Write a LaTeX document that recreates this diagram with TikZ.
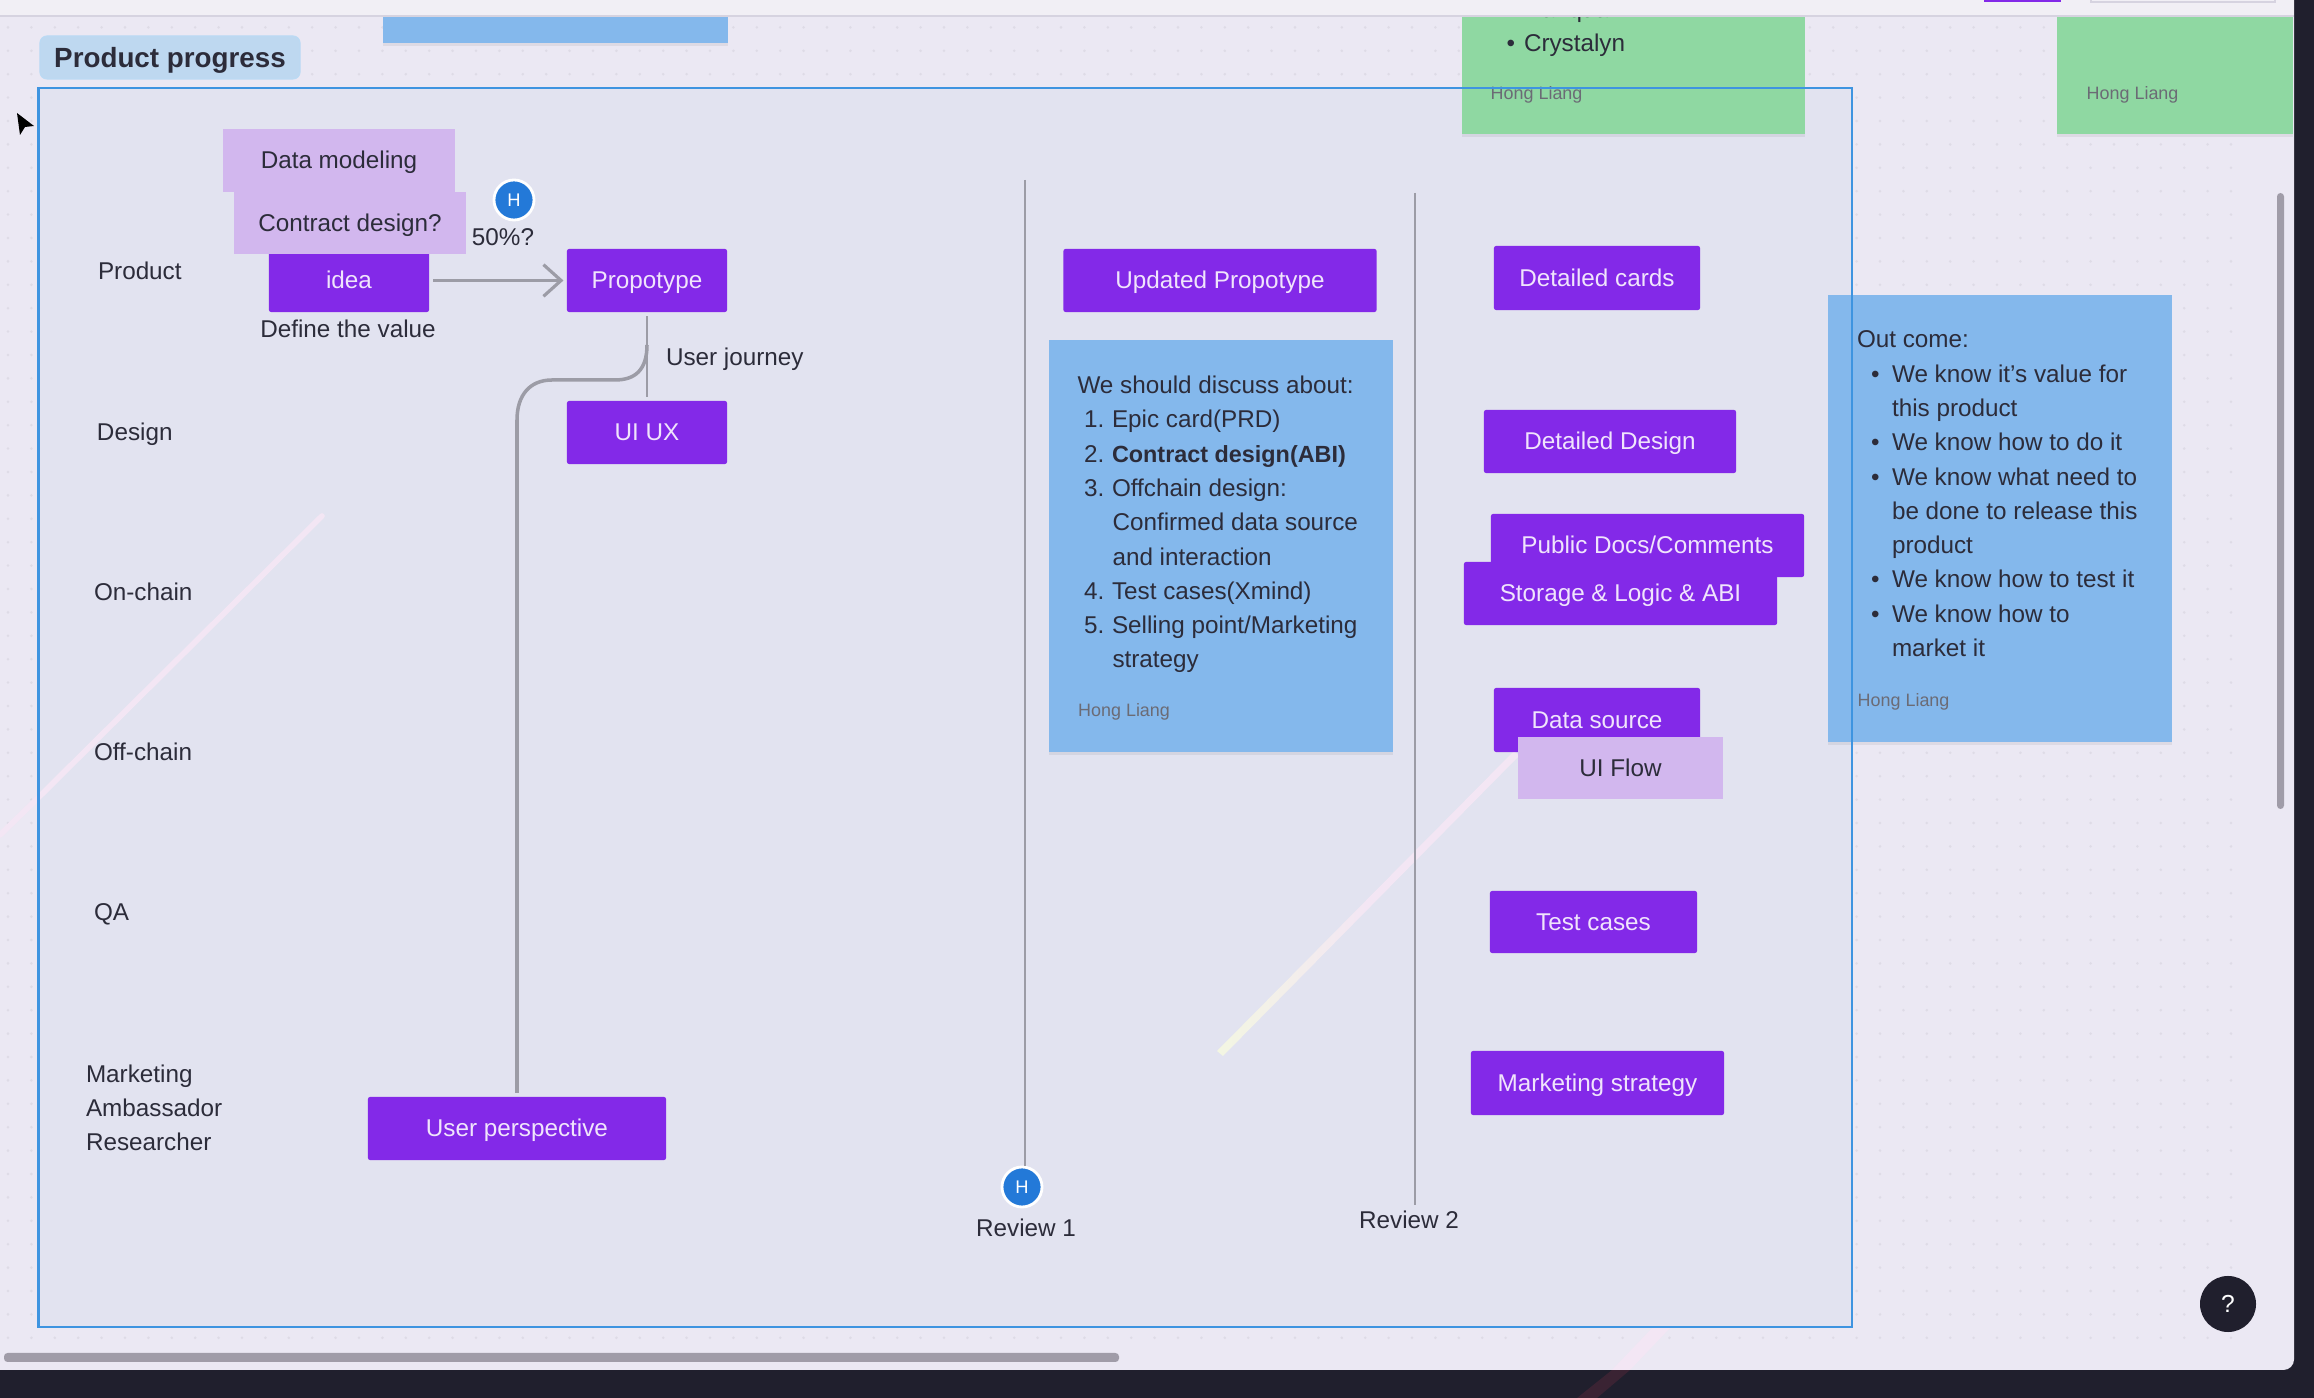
\documentclass[tikz,border=0pt]{standalone}
\usepackage{fontspec}
\setmainfont{Liberation Sans}
\usepackage{xcolor}
\usetikzlibrary{arrows.meta,shadows}
\definecolor{page}{RGB}{235, 232, 243}
\definecolor{pagedot}{RGB}{222, 219, 230}
\definecolor{topbar}{RGB}{241, 239, 245}
\definecolor{topline}{RGB}{214, 211, 224}
\definecolor{outside}{RGB}{32, 31, 45}
\definecolor{framefill}{RGB}{226, 227, 240}
\definecolor{frameline}{RGB}{62, 148, 224}
\definecolor{labelfill}{RGB}{190, 216, 240}
\definecolor{purple}{RGB}{131, 41, 232}
\definecolor{lilac}{RGB}{210, 183, 238}
\definecolor{noteblue}{RGB}{132, 184, 236}
\definecolor{notegreen}{RGB}{143, 216, 162}
\definecolor{ink}{RGB}{44, 44, 58}
\definecolor{cardtext}{RGB}{240, 228, 252}
\definecolor{avatar}{RGB}{35, 121, 216}
\definecolor{linegray}{RGB}{156, 156, 166}
\definecolor{bargray}{RGB}{160, 156, 168}
\definecolor{streakpink}{RGB}{243, 230, 244}
\definecolor{streakpale}{RGB}{243, 246, 226}
\definecolor{streakdark}{RGB}{58, 35, 51}
\newcommand{\numitem}[2]{\makebox[.065cm][l]{}\makebox[.28cm][l]{#1}#2}
\newcommand{\contitem}[1]{\makebox[.35cm][l]{}#1}
\newcommand{\bulitem}[1]{\makebox[.14cm][l]{}\makebox[.21cm][l]{\textbullet}#1}
\tikzset{
  txt/.style={font=\fontsize{6.9}{9.75}\selectfont,text=ink,inner sep=0pt,outer sep=0pt,text height=5.6pt,text depth=1.3pt},
  lefttxt/.style={txt,anchor=west},
  notetxt/.style={font=\fontsize{6.9}{9.75}\selectfont,text=ink,inner sep=0pt,outer sep=0pt,anchor=north west,align=left},
  signtxt/.style={font=\fontsize{5.1}{6}\selectfont,text=ink!70,inner sep=0pt,anchor=west,text height=3.7pt,text depth=1pt},
  card/.style={fill=purple,rounded corners=.6pt,font=\fontsize{6.9}{9}\selectfont,text=cardtext,inner sep=0pt,outer sep=0pt,text height=6pt,text depth=1.3pt},
  softcard/.style={card,fill=lilac,rounded corners=0pt,text=ink},
  sticky/.style={fill=#1,inner sep=0pt,outer sep=0pt,drop shadow={shadow xshift=0cm,shadow yshift=-.03cm,opacity=.06,fill=black}},
  badge/.style={circle,fill=avatar,draw=white,line width=.8pt,minimum size=.4cm,inner sep=0pt,font=\fontsize{5.2}{6}\selectfont,text=white},
  rule/.style={linegray,line width=.8pt},
  flow/.style={linegray,line width=.9pt,-{Straight Barb[length=5pt,width=9pt,line width=.9pt]}},
  streak/.style={line width=1.6pt,line cap=round}
}
\begin{document}
\begin{tikzpicture}[x=.01cm,y=-.01cm]
\useasboundingbox (0,0) rectangle (2314,1398);
\fill[outside] (0,0) rectangle (2314,1398);
\fill[streakdark] (1612,1370) -- (1630,1370) -- (1597,1398) -- (1577,1398) -- cycle;
\fill[page,rounded corners=3pt] (-20,-20) rectangle (2294,1370);
% dot grid
\foreach \i in {0,...,95}
  \foreach \j in {1,...,57}
    \fill[pagedot] ({\i*23.4+8},{\j*23.4+4}) circle (.4pt);
\fill[streakpink] (1658,1322) -- (1670,1328) -- (1630,1370) -- (1612,1370) -- cycle;
\draw[streakpink,streak] (0,835) -- (38,798);
\fill[framefill] (38,88) rectangle (1852,1327);
% light streaks
\draw[streakpink,streak] (322,516) -- (38,798);
\shade[left color=streakpale,right color=streakpink,middle color=streakpink] (1217,1051) -- (1514,751) -- (1519,756) -- (1223,1056) -- cycle;

% sticky notes
\node[sticky=noteblue,minimum width=3.45cm,minimum height=.27cm] (topnote) at (555.5,29.5) {};
\node[sticky=notegreen,minimum width=3.43cm,minimum height=1.18cm] (greenA) at (1633.5,75) {};
\node[sticky=notegreen,minimum width=2.36cm,minimum height=1.18cm] (greenB) at (2175,75) {};
\node[sticky=noteblue,minimum width=3.44cm,minimum height=4.12cm] (discussnote) at (1221,546) {};
\node[sticky=noteblue,minimum width=3.44cm,minimum height=4.47cm] (outnote) at (2000,518.5) {};

\node[lefttxt] (hanquan) at (1524,10) {\makebox[0pt][r]{\textbullet\hspace{.09cm}}Hanquan};
\node[lefttxt] (crystalyn) at (1524,44) {\makebox[0pt][r]{\textbullet\hspace{.09cm}}Crystalyn};
\node[signtxt] (signA) at (1490,95) {Hong Liang};
\node[signtxt] (signB) at (2086,95) {Hong Liang};

% window chrome
\fill[topbar] (0,0) rectangle (2294,16);
\draw[topline,line width=.5pt] (0,16) -- (2294,16);
\fill[purple] (1984,0) rectangle (2061,2);
\draw[topline,line width=.5pt] (2091,-2) rectangle (2275,2);

% frame and title
\draw[frameline,line width=.8pt] (38.5,88) rectangle (1852,1327);
\node[fill=labelfill,draw=frameline!35,line width=.3pt,rounded corners=2pt,minimum width=2.6cm,minimum height=.43cm,font=\fontsize{7.9}{9}\bfseries\selectfont,text=ink,inner sep=0pt,text height=7pt,text depth=1.4pt] (title) at (170,57.5) {Product progress};
\fill[black] (17,113) -- (34,126) -- (25,127) -- (20,135) -- cycle;

% row labels
\node[lefttxt] (rowproduct) at (98,272) {Product};
\node[lefttxt] (rowdesign) at (97,433) {Design};
\node[lefttxt] (rowonchain) at (94,593) {On-chain};
\node[lefttxt] (rowoffchain) at (94,753) {Off-chain};
\node[lefttxt] (rowqa) at (94,913) {QA};
\node[notetxt,anchor=west] (rowmarketing) at (86,1108) {Marketing\\Ambassador\\Researcher};

% first column
\node[card,minimum width=1.6cm,minimum height=.63cm] (idea) at (349,280.5) {idea};
\node[softcard,minimum width=2.32cm,minimum height=.63cm] (datamodel) at (339,160.5) {Data modeling};
\node[softcard,minimum width=2.32cm,minimum height=.62cm] (contract) at (350,223) {Contract design?};
\node[card,minimum width=1.6cm,minimum height=.63cm] (proto) at (647,280.5) {Propotype};
\node[card,minimum width=1.6cm,minimum height=.63cm] (uiux) at (647,432.5) {UI UX};
\node[card,minimum width=2.98cm,minimum height=.63cm] (persp) at (517,1128.5) {User perspective};
\node[badge] (markerA) at (514,200) {H};
\node[txt] (halfmark) at (503,238) {50\%?};
\node[txt] (definevalue) at (348,330) {Define the value};
\node[lefttxt] (journey) at (666,358) {User journey};
\coordinate (branch) at (647,345);
\draw[flow,shorten <=1.2pt,shorten >=1pt] (idea.east) -- (proto.west);
\draw[rule,shorten <=1.2pt,shorten >=1.2pt] (proto.south) -- (uiux.north);
\draw[rule,line width=1pt,shorten >=1.2pt] (branch) .. controls (647,370) and (635,380) .. (615,380) -- (552,380) .. controls (530,380) and (517,395) .. (517,420) -- (persp.north);

% review lines
\coordinate (reviewAtop) at (1025,180);
\coordinate (reviewBtop) at (1415,193);
\node[badge] (markerB) at (1022,1187) {H};
\node[txt] (reviewA) at (1026,1229) {Review 1};
\node[txt] (reviewB) at (1409,1221) {Review 2};
\coordinate (reviewBend) at (1415,1205);
\draw[rule] (reviewAtop) -- (reviewAtop |- markerB.north);
\draw[rule] (reviewBtop) -- (reviewBend);

% second column
\node[card,minimum width=3.13cm,minimum height=.63cm] (updated) at (1220,280.5) {Updated Propotype};
\node[notetxt] (discuss) at (1077.5,376) {We should discuss about:\\
\numitem{1.}{Epic card(PRD)}\\
\numitem{2.}{\fontsize{6.65}{9.75}\selectfont\textbf{Contract design(ABI)}}\\
\numitem{3.}{Offchain design:}\\
\contitem{Confirmed data source}\\
\contitem{and interaction}\\
\numitem{4.}{Test cases(Xmind)}\\
\numitem{5.}{Selling point/Marketing}\\
\contitem{strategy}};
\node[signtxt] (signC) at (1077.5,712) {Hong Liang};

% third column
\node[card,minimum width=2.06cm,minimum height=.64cm] (cards) at (1597,278) {Detailed cards};
\node[card,minimum width=2.52cm,minimum height=.63cm] (detaildesign) at (1610,441.5) {Detailed Design};
\node[card,minimum width=3.13cm,minimum height=.63cm] (docs) at (1647.5,545.5) {Public Docs/Comments};
\node[card,minimum width=3.13cm,minimum height=.63cm] (storage) at (1620.5,593.5) {Storage \& Logic \& ABI};
\node[card,minimum width=2.06cm,minimum height=.64cm] (datasource) at (1597,720) {Data source};
\node[softcard,minimum width=2.05cm,minimum height=.62cm] (uiflow) at (1620.5,768) {UI Flow};
\node[card,minimum width=2.07cm,minimum height=.62cm] (testcases) at (1593.5,922) {Test cases};
\node[card,minimum width=2.53cm,minimum height=.64cm] (strategy) at (1597.5,1083) {Marketing strategy};

% outcome note
\node[notetxt] (outcome) at (1857,331) {Out come:\\
\bulitem{We know it's value for}\\
\contitem{this product}\\
\bulitem{We know how to do it}\\
\bulitem{We know what need to}\\
\contitem{be done to release this}\\
\contitem{product}\\
\bulitem{We know how to test it}\\
\bulitem{We know how to}\\
\contitem{market it}};
\node[signtxt] (signD) at (1857,702) {Hong Liang};

% scrollbars and help button
\fill[bargray,rounded corners=1pt] (2277,193) rectangle (2284,809);
\fill[bargray,rounded corners=1pt] (4,1353) rectangle (1119,1362);
\node[circle,fill=outside,minimum size=.56cm,inner sep=0pt,font=\fontsize{7}{8}\selectfont,text=white] (help) at (2228,1304) {?};
\end{tikzpicture}
\end{document}
